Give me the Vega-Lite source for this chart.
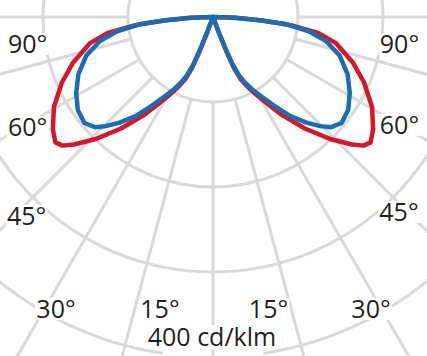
{
  "$schema": "https://vega.github.io/schema/vega-lite/v6.json",
  "width": 427,
  "height": 356,
  "padding": 0,
  "autosize": {"type": "none"},
  "config": {"view": {"stroke": null}},
  "datasets": {
    "circles": [
      {"r": 100, "t1": -180, "t2": 180},
      {"r": 200, "t1": -180, "t2": 180},
      {"r": 300, "t1": -180, "t2": 180},
      {"r": 400, "t1": -171.5, "t2": 171.5}
    ],
    "spokes": [
      {"a": -90}, {"a": -75}, {"a": -60}, {"a": -45}, {"a": -30}, {"a": -15}, {"a": 0},
      {"a": 15}, {"a": 30}, {"a": 45}, {"a": 60}, {"a": 75}, {"a": 90}
    ],
    "ldc": [
      {"s": "red", "g": -90, "i": 0}, {"s": "red", "g": -88, "i": 27}, {"s": "red", "g": -86, "i": 58},
      {"s": "red", "g": -84, "i": 92}, {"s": "red", "g": -81.5, "i": 124}, {"s": "red", "g": -78, "i": 148},
      {"s": "red", "g": -72, "i": 173}, {"s": "red", "g": -66.5, "i": 194}, {"s": "red", "g": -60.5, "i": 215},
      {"s": "red", "g": -55, "i": 230}, {"s": "red", "g": -51.5, "i": 237}, {"s": "red", "g": -49.5, "i": 233},
      {"s": "red", "g": -47.5, "i": 222}, {"s": "red", "g": -44, "i": 200}, {"s": "red", "g": -39.5, "i": 170},
      {"s": "red", "g": -35, "i": 140}, {"s": "red", "g": -32, "i": 120}, {"s": "red", "g": -29, "i": 104},
      {"s": "red", "g": -26.5, "i": 92}, {"s": "red", "g": -24, "i": 80}, {"s": "red", "g": -22.3, "i": 65},
      {"s": "red", "g": -21.3, "i": 45}, {"s": "red", "g": -20.5, "i": 22}, {"s": "red", "g": -20, "i": 0},
      {"s": "red", "g": 20, "i": 0}, {"s": "red", "g": 20.5, "i": 22}, {"s": "red", "g": 21.3, "i": 45},
      {"s": "red", "g": 22.3, "i": 65}, {"s": "red", "g": 24, "i": 80}, {"s": "red", "g": 26.5, "i": 92},
      {"s": "red", "g": 29, "i": 104}, {"s": "red", "g": 32, "i": 120}, {"s": "red", "g": 35, "i": 140},
      {"s": "red", "g": 39.5, "i": 170}, {"s": "red", "g": 44, "i": 200},
      {"s": "red", "g": 47.5, "i": 222}, {"s": "red", "g": 49.5, "i": 233}, {"s": "red", "g": 51.5, "i": 237},
      {"s": "red", "g": 55, "i": 230}, {"s": "red", "g": 60.5, "i": 215}, {"s": "red", "g": 66.5, "i": 194},
      {"s": "red", "g": 72, "i": 173}, {"s": "red", "g": 78, "i": 148}, {"s": "red", "g": 81.5, "i": 124},
      {"s": "red", "g": 84, "i": 92}, {"s": "red", "g": 86, "i": 58}, {"s": "red", "g": 88, "i": 27},
      {"s": "red", "g": 90, "i": 0},
      {"s": "blue", "g": -90, "i": 0}, {"s": "blue", "g": -88, "i": 25}, {"s": "blue", "g": -86, "i": 55},
      {"s": "blue", "g": -84.5, "i": 86}, {"s": "blue", "g": -81.5, "i": 114}, {"s": "blue", "g": -78, "i": 136},
      {"s": "blue", "g": -73, "i": 156}, {"s": "blue", "g": -67, "i": 172}, {"s": "blue", "g": -61, "i": 184},
      {"s": "blue", "g": -55.5, "i": 193}, {"s": "blue", "g": -50.5, "i": 196}, {"s": "blue", "g": -47, "i": 190},
      {"s": "blue", "g": -44.5, "i": 180}, {"s": "blue", "g": -41.5, "i": 166}, {"s": "blue", "g": -38, "i": 148},
      {"s": "blue", "g": -34.5, "i": 126}, {"s": "blue", "g": -31.5, "i": 110}, {"s": "blue", "g": -28.5, "i": 97},
      {"s": "blue", "g": -26, "i": 86}, {"s": "blue", "g": -24, "i": 75}, {"s": "blue", "g": -22.5, "i": 60},
      {"s": "blue", "g": -21.7, "i": 40}, {"s": "blue", "g": -21, "i": 20}, {"s": "blue", "g": -20, "i": 0},
      {"s": "blue", "g": 20, "i": 0}, {"s": "blue", "g": 21, "i": 20}, {"s": "blue", "g": 21.7, "i": 40},
      {"s": "blue", "g": 22.5, "i": 60}, {"s": "blue", "g": 24, "i": 75}, {"s": "blue", "g": 26, "i": 86},
      {"s": "blue", "g": 28.5, "i": 97}, {"s": "blue", "g": 31.5, "i": 110}, {"s": "blue", "g": 34.5, "i": 126},
      {"s": "blue", "g": 38, "i": 148}, {"s": "blue", "g": 41.5, "i": 166}, {"s": "blue", "g": 44.5, "i": 180},
      {"s": "blue", "g": 47, "i": 190}, {"s": "blue", "g": 50.5, "i": 196},
      {"s": "blue", "g": 55.5, "i": 193}, {"s": "blue", "g": 61, "i": 184}, {"s": "blue", "g": 67, "i": 172},
      {"s": "blue", "g": 73, "i": 156}, {"s": "blue", "g": 78, "i": 136}, {"s": "blue", "g": 81.5, "i": 114},
      {"s": "blue", "g": 84.5, "i": 86}, {"s": "blue", "g": 86, "i": 55}, {"s": "blue", "g": 88, "i": 25},
      {"s": "blue", "g": 90, "i": 0}
    ],
    "labels": [
      {"t": "90°", "x": -218.2, "y": -42.4},
      {"t": "90°", "x": 219.4, "y": -42.4},
      {"t": "60°", "x": -218.2, "y": -140},
      {"t": "60°", "x": 219.4, "y": -137.6},
      {"t": "45°", "x": -219.4, "y": -244.7},
      {"t": "45°", "x": 218.8, "y": -240},
      {"t": "30°", "x": -184.7, "y": -354.1},
      {"t": "30°", "x": 185.9, "y": -354.1},
      {"t": "15°", "x": -62.4, "y": -354.1},
      {"t": "15°", "x": 65.3, "y": -354.1},
      {"t": "400 cd/klm", "x": -1.2, "y": -387.1}
    ]
  },
  "layer": [
    {
      "data": {"name": "circles"},
      "mark": {"type": "arc", "color": "#d9d9d9", "radiusOffset": 1.5, "radius2Offset": -1.5, "clip": true},
      "encoding": {
        "x": {"datum": 0, "type": "quantitative", "scale": {"domain": [-250.6, 251.8], "nice": false, "zero": false}, "axis": null},
        "y": {"datum": 0, "type": "quantitative", "scale": {"domain": [-398.8, 20], "nice": false, "zero": false}, "axis": null},
        "radius": {"field": "r", "type": "quantitative", "scale": {"type": "linear", "domain": [0, 400], "range": [0, 340], "zero": true, "nice": false}},
        "radius2": {"field": "r"},
        "theta": {"field": "t1", "type": "quantitative", "stack": null, "scale": {"domain": [-180, 180], "range": [-3.14159265, 3.14159265], "nice": false, "zero": false}},
        "theta2": {"field": "t2"}
      }
    },
    {
      "data": {"name": "spokes"},
      "transform": [
        {"calculate": "100*sin(datum.a*PI/180)", "as": "x1"},
        {"calculate": "-100*cos(datum.a*PI/180)", "as": "y1"},
        {"calculate": "700*sin(datum.a*PI/180)", "as": "x2"},
        {"calculate": "-700*cos(datum.a*PI/180)", "as": "y2"}
      ],
      "mark": {"type": "rule", "color": "#d9d9d9", "strokeWidth": 3, "clip": true},
      "encoding": {
        "x": {"field": "x1", "type": "quantitative", "scale": {"domain": [-250.6, 251.8], "nice": false, "zero": false}, "axis": null},
        "y": {"field": "y1", "type": "quantitative", "scale": {"domain": [-398.8, 20], "nice": false, "zero": false}, "axis": null},
        "x2": {"field": "x2"},
        "y2": {"field": "y2"}
      }
    },
    {
      "data": {"name": "ldc"},
      "transform": [
        {"filter": "datum.s === 'red'"},
        {"calculate": "datum.i*sin(datum.g*PI/180)", "as": "px"},
        {"calculate": "-datum.i*cos(datum.g*PI/180)", "as": "py"}
      ],
      "mark": {"type": "line", "color": "#d6172b", "strokeWidth": 4.5, "strokeJoin": "round", "strokeCap": "round"},
      "encoding": {
        "x": {"field": "px", "type": "quantitative", "scale": {"domain": [-250.6, 251.8], "nice": false, "zero": false}, "axis": null},
        "y": {"field": "py", "type": "quantitative", "scale": {"domain": [-398.8, 20], "nice": false, "zero": false}, "axis": null},
        "order": {"field": "g", "type": "quantitative"}
      }
    },
    {
      "data": {"name": "ldc"},
      "transform": [
        {"filter": "datum.s === 'blue'"},
        {"calculate": "datum.i*sin(datum.g*PI/180)", "as": "px"},
        {"calculate": "-datum.i*cos(datum.g*PI/180)", "as": "py"}
      ],
      "mark": {"type": "line", "color": "#1a6db3", "strokeWidth": 4.5, "strokeJoin": "round", "strokeCap": "round"},
      "encoding": {
        "x": {"field": "px", "type": "quantitative", "scale": {"domain": [-250.6, 251.8], "nice": false, "zero": false}, "axis": null},
        "y": {"field": "py", "type": "quantitative", "scale": {"domain": [-398.8, 20], "nice": false, "zero": false}, "axis": null},
        "order": {"field": "g", "type": "quantitative"}
      }
    },
    {
      "data": {"name": "labels"},
      "transform": [{"filter": "length(datum.t) < 5"}],
      "mark": {"type": "rect", "color": "white", "width": 42, "height": 22, "yOffset": -9},
      "encoding": {
        "x": {"field": "x", "type": "quantitative", "scale": {"domain": [-250.6, 251.8], "nice": false, "zero": false}, "axis": null},
        "y": {"field": "y", "type": "quantitative", "scale": {"domain": [-398.8, 20], "nice": false, "zero": false}, "axis": null}
      }
    },
    {
      "data": {"name": "labels"},
      "transform": [{"filter": "length(datum.t) >= 5"}],
      "mark": {"type": "rect", "color": "white", "width": 134, "height": 24, "yOffset": -9},
      "encoding": {
        "x": {"field": "x", "type": "quantitative", "scale": {"domain": [-250.6, 251.8], "nice": false, "zero": false}, "axis": null},
        "y": {"field": "y", "type": "quantitative", "scale": {"domain": [-398.8, 20], "nice": false, "zero": false}, "axis": null}
      }
    },
    {
      "data": {"name": "labels"},
      "mark": {"type": "text", "font": "Open Sans", "fontSize": 25, "align": "center", "baseline": "alphabetic", "color": "#231f20"},
      "encoding": {
        "x": {"field": "x", "type": "quantitative", "scale": {"domain": [-250.6, 251.8], "nice": false, "zero": false}, "axis": null},
        "y": {"field": "y", "type": "quantitative", "scale": {"domain": [-398.8, 20], "nice": false, "zero": false}, "axis": null},
        "text": {"field": "t"}
      }
    }
  ]
}
